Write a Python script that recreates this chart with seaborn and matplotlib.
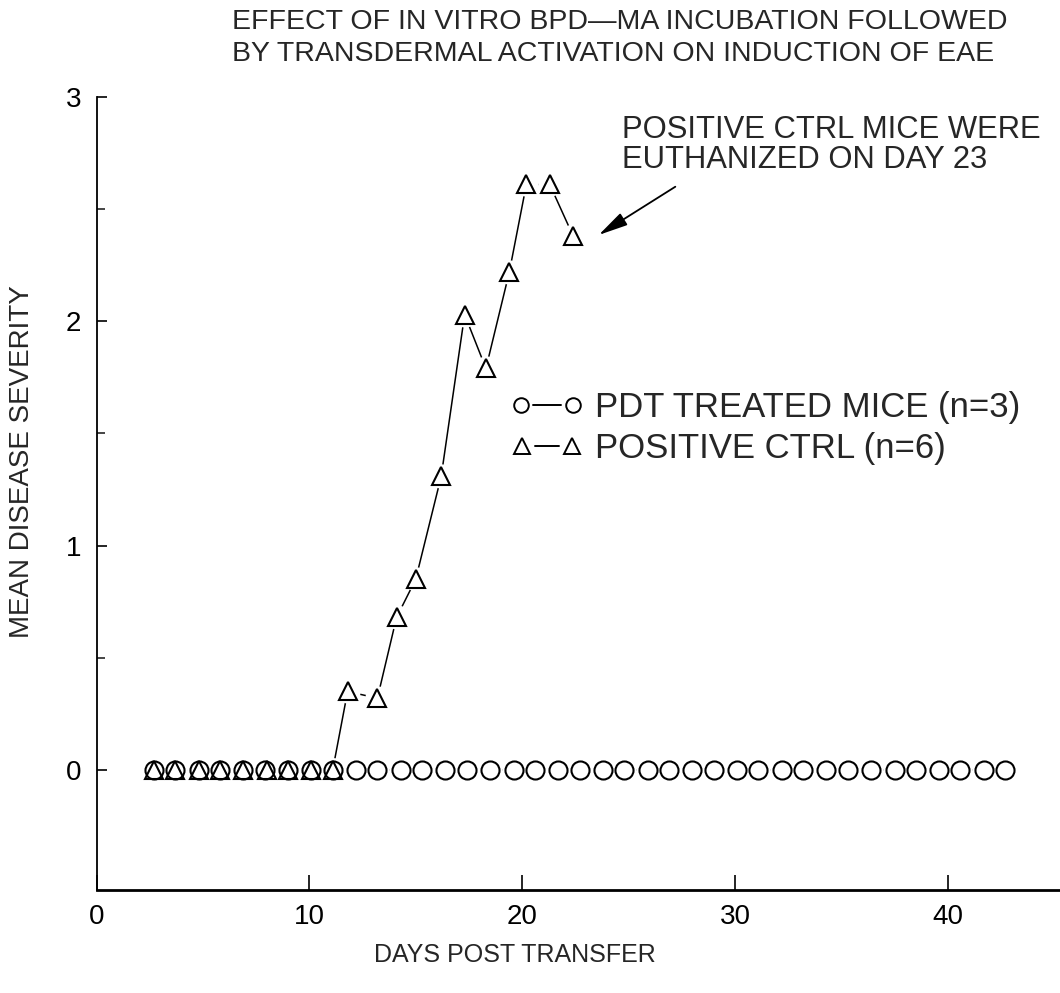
import matplotlib
matplotlib.use("Agg")
import matplotlib.pyplot as plt
from matplotlib.lines import Line2D
from matplotlib.legend_handler import HandlerBase
import seaborn as sns
import pandas as pd

# ---- data -------------------------------------------------------------
pdt_days = [2.7, 3.7, 4.8, 5.8, 6.9, 7.9, 9.0, 10.1, 11.1, 12.2, 13.2, 14.3,
            15.3, 16.4, 17.4, 18.5, 19.6, 20.6, 21.7, 22.7, 23.8, 24.8, 25.9,
            26.9, 28.0, 29.0, 30.1, 31.1, 32.2, 33.2, 34.3, 35.3, 36.4, 37.5,
            38.5, 39.6, 40.6, 41.7, 42.7]
pdt_scores = [0.0] * len(pdt_days)

ctrl_days = [2.7, 3.7, 4.8, 5.8, 6.9, 8.0, 9.0, 10.1, 11.1, 11.8, 13.2, 14.1,
             15.0, 16.2, 17.3, 18.3, 19.4, 20.2, 21.3, 22.4]
ctrl_scores = [0, 0, 0, 0, 0, 0, 0, 0, 0, 0.35, 0.32, 0.68,
               0.85, 1.31, 2.03, 1.79, 2.22, 2.61, 2.61, 2.38]

x_ticks = [0, 10, 20, 30, 40]
y_ticks = [0, 1, 2, 3]
y_minor = [0.5, 1.5, 2.5]

title_lines = ["EFFECT OF IN VITRO BPD\u2014MA INCUBATION FOLLOWED",
               "BY TRANSDERMAL ACTIVATION ON INDUCTION OF EAE"]
note_lines = ["POSITIVE CTRL MICE WERE", "EUTHANIZED ON DAY 23"]
series_labels = ["PDT TREATED MICE (n=3)", "POSITIVE CTRL (n=6)"]
x_label = "DAYS POST TRANSFER"
y_label = "MEAN DISEASE SEVERITY"
note_target = (23.6, 2.385)
note_tail = (27.2, 2.6)

# ---- style ------------------------------------------------------------
sns.set_theme(style="ticks")
plt.rcParams["font.family"] = ["Liberation Sans", "DejaVu Sans"]

W, H = 1060, 993
fig = plt.figure(figsize=(W / 100, H / 100), dpi=100)


def fx(px):
    return px / W


def fy(py):
    return 1 - py / H


ax_left, ax_right, ax_top, ax_bottom = 96.5, 1060, 97, 890
ax = fig.add_axes([fx(ax_left), fy(ax_bottom), fx(ax_right - ax_left),
                   (ax_bottom - ax_top) / H])

pdt = pd.DataFrame({"day": pdt_days, "score": pdt_scores})
ctrl = pd.DataFrame({"day": ctrl_days, "score": ctrl_scores})

LW = 1.1
series = [(pdt, "o", 13.0), (ctrl, "^", 13.0)]

# connecting lines
for df, mk, ms in series:
    sns.lineplot(data=df, x="day", y="score", ax=ax, sort=False, estimator=None,
                 color="black", lw=LW, zorder=1)
# round white patches that leave a gap in the lines around every point
for df, mk, ms in series:
    sns.lineplot(data=df, x="day", y="score", ax=ax, sort=False, estimator=None,
                 linestyle="none", marker="o", markersize=17.5, mfc="white",
                 mec="none", zorder=2)
# open markers
for df, mk, ms in series:
    sns.lineplot(data=df, x="day", y="score", ax=ax, sort=False, estimator=None,
                 linestyle="none", marker=mk, markersize=ms, mfc="none",
                 mec="black", mew=1.5, zorder=3)

ax.set_xlim(0, (ax_right - ax_left) / 21.28)
ax.set_ylim(-0.535, 3.0)
ax.set_xticks(x_ticks)
ax.set_xticklabels([str(t) for t in x_ticks])
ax.set_yticks(y_ticks)
ax.set_yticklabels([str(t) for t in y_ticks])
ax.set_yticks(y_minor, minor=True)
ax.tick_params(axis="x", direction="in", length=11, width=1.2, pad=10,
               labelsize=20, colors="black")
ax.tick_params(axis="y", which="major", direction="in", length=7, width=1.2,
               pad=11, labelsize=20, colors="black")
ax.tick_params(axis="y", which="minor", direction="in", length=6, width=1.2)
ax.set_xlabel("")
ax.set_ylabel("")
sns.despine(ax=ax)
ax.spines["left"].set_linewidth(1.3)
ax.spines["bottom"].set_linewidth(2.0)
ax.spines["left"].set_color("black")
ax.spines["bottom"].set_color("black")

# titles and axis labels
fig.text(fx(232), fy(22), title_lines[0], fontsize=20.5, ha="left", va="center")
fig.text(fx(232), fy(54), title_lines[1], fontsize=20.5, ha="left", va="center")
fig.text(fx(515), fy(955), x_label, fontsize=18, ha="center", va="center")
fig.text(fx(22), fy(462), y_label, fontsize=20, ha="center", va="center",
         rotation=90)

# note with arrow
ax.text(24.7, 2.853, note_lines[0], fontsize=22.3, ha="left", va="center")
ax.text(24.7, 2.72, note_lines[1], fontsize=22.3, ha="left", va="center")
ax.annotate("", xy=note_target, xytext=note_tail,
            arrowprops=dict(arrowstyle="-|>,head_length=1.5,head_width=0.35",
                            color="black", lw=1.3, shrinkA=0, shrinkB=0))


# legend: marker - line - marker, with gaps at both ends of the line
class GappedPair(HandlerBase):
    def create_artists(self, legend, orig_handle, xdescent, ydescent, width,
                       height, fontsize, trans):
        ms = orig_handle.get_markersize()
        y = height / 2 - ydescent
        x0 = -xdescent + ms / 2
        x1 = width - xdescent - ms / 2
        gap = ms * 0.8
        seg = Line2D([x0 + gap, x1 - gap], [y, y], color="black",
                     lw=orig_handle.get_linewidth(), transform=trans)
        pts = Line2D([x0, x1], [y, y], linestyle="none",
                     marker=orig_handle.get_marker(), markersize=ms,
                     mfc="none", mec="black", mew=orig_handle.get_markeredgewidth(),
                     transform=trans)
        return [seg, pts]


handles = [Line2D([], [], marker="o", markersize=10.5, mew=1.4, color="black", lw=1.4),
           Line2D([], [], marker="^", markersize=11.5, mew=1.4, color="black", lw=1.4)]
leg = ax.legend(handles, series_labels, handler_map={Line2D: GappedPair()},
                loc="center left", bbox_to_anchor=(fx(514), fy(428)),
                bbox_transform=fig.transFigure, frameon=False, fontsize=25,
                handlelength=1.9, handletextpad=0.42, labelspacing=0.22,
                borderpad=0, borderaxespad=0)

fig.savefig("out.png", dpi=100)
